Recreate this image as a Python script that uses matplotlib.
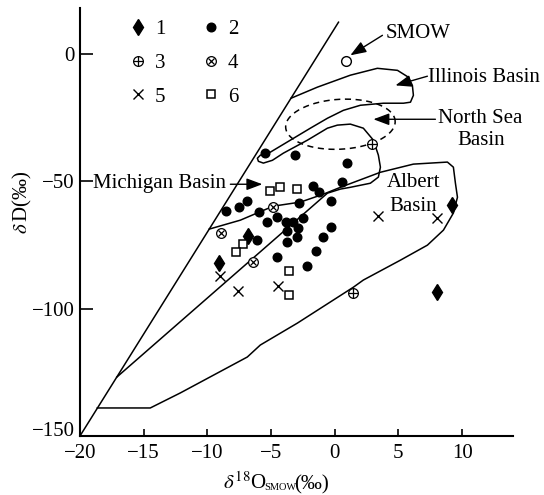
import numpy as np
import matplotlib
matplotlib.use('Agg')
import matplotlib.pyplot as plt
from matplotlib.legend_handler import HandlerTuple

# grupo 1 (rombos)
g1_x = [-6.8, -9.1, 9.2, 8.0]
g1_y = [-71.6, -82.2, -59.4, -93.5]

# grupo 2 (círculos rellenos)
g2_x = [-5.44, -3.09, -8.51, -7.49, -6.86, -5.92, -5.29, -4.50, -2.77, -1.67,
        -1.20, -0.30, -3.79, -3.24, -2.46, -3.72, -2.85, -2.93, -3.72, -6.07,
        -0.89, -0.30, -1.44, -4.50, -2.14, 1.00, 0.60]
g2_y = [-39.0, -39.8, -61.8, -60.2, -57.8, -62.2, -66.1, -64.1, -58.6, -52.0,
        -54.3, -57.8, -66.1, -66.1, -64.5, -69.6, -68.4, -72.0, -73.9, -73.1,
        -72.0, -68.0, -77.3, -79.8, -83.1, -42.9, -50.4]

# grupo 3 (círculo con +)
g3_x = [2.96, 1.47]
g3_y = [-35.5, -93.9]

# grupo 4 (círculo con x)
g4_x = [-4.82, -8.90, -6.39]
g4_y = [-60.2, -70.4, -81.8]

# grupo 5 (cruces)
g5_x = [-8.98, -7.56, -4.42, 3.43, 8.00]
g5_y = [-87.3, -93.1, -91.2, -63.7, -64.5]

# grupo 6 (cuadrados)
g6_x = [-5.05, -4.27, -2.93, -7.17, -7.72, -3.56, -3.56]
g6_y = [-53.9, -52.4, -53.1, -74.7, -77.8, -85.3, -94.7]

smow_x, smow_y = 0.9, -2.9

# línea meteórica
gmwl_x = [-20, 0.3]
gmwl_y = [8 * v + 10 for v in gmwl_x]

# contorno cuenca Albert
albert_x = [-9.85, -7.41, -4.82, -2.69, -0.89, 0.45, 3.59, 6.18, 8.85, 9.32, 9.48,
            9.64, 9.32, 8.54, 7.28, 5.16, 2.25, 1.47, -2.93, -5.84, -6.86, -12.12,
            -14.48, -18.64]
albert_y = [-68.8, -65.3, -59.8, -58.2, -55.1, -52.4, -46.5, -43.3, -42.5, -44.5, -50.8,
            -56.3, -62.5, -69.2, -75.1, -81.0, -88.8, -91.6, -105.7, -114.3, -119.0, -133.1,
            -139.0, -139.0]

# contorno Michigan + Illinois (una sola línea)
mich_x = [-17.11, -0.57, 0.45, 1.23, 2.80, 3.43, 3.59, 3.43, 3.04, 2.25, 1.23, 0.21,
          -0.57, -2.14, -4.03, -4.89, -5.60, -5.99, -6.07, -5.84, -5.05, -3.48, -1.91,
          -0.57, 0.68, 2.02, 3.83, 5.40, 5.95, 6.18, 6.10, 5.79, 4.93, 3.35, 1.23,
          -1.36, -3.43]
mich_y = [-126.9, -54.7, -53.1, -52.4, -50.8, -48.4, -44.5, -39.8, -33.9, -29.2, -27.6, -28.0,
          -29.2, -33.9, -39.0, -41.8, -42.9, -42.2, -41.0, -39.8, -38.6, -33.9, -29.2,
          -25.3, -22.2, -20.2, -19.4, -19.4, -19.0, -16.3, -12.4, -9.2, -6.5, -5.7, -8.4,
          -13.1, -17.45]

# cuenca del Mar del Norte (elipse)
nsb_cx, nsb_cy = 0.45, -27.65
nsb_a, nsb_b, nsb_tilt = 4.3, 9.8, 1.0

x_ticks = [-20, -15, -10, -5, 0, 5, 10]
y_ticks = [-150, -100, -50, 0]

plt.rcParams['font.family'] = ['Liberation Serif', 'DejaVu Serif']
plt.rcParams['mathtext.fontset'] = 'stix'

fig = plt.figure(figsize=(5.44, 4.95), dpi=100)
ax = fig.add_axes([0.147, 0.1192, 0.796, 0.8648])

lw = 1.1
ax.plot(gmwl_x, gmwl_y, color='k', lw=lw)
ax.plot(albert_x, albert_y, color='k', lw=lw)
ax.plot(mich_x, mich_y, color='k', lw=lw)
t = np.linspace(0, 2 * np.pi, 200)
ax.plot(nsb_cx + nsb_a * np.cos(t), nsb_cy + nsb_b * np.sin(t) + nsb_tilt * np.cos(t),
        color='k', lw=lw, ls=(0, (4, 3)))

h1, = ax.plot(g1_x, g1_y, 'd', ms=8.5, color='k', ls='none')
h2, = ax.plot(g2_x, g2_y, 'o', ms=6.2, color='k', ls='none')
h3a, = ax.plot(g3_x, g3_y, 'o', ms=7, mfc='white', mec='k', mew=0.9, ls='none')
h3b, = ax.plot(g3_x, g3_y, '+', ms=7, mec='k', mew=0.9, ls='none')
h4a, = ax.plot(g4_x, g4_y, 'o', ms=7, mfc='white', mec='k', mew=0.9, ls='none')
h4b, = ax.plot(g4_x, g4_y, 'x', ms=4.5, mec='k', mew=0.9, ls='none')
h5, = ax.plot(g5_x, g5_y, 'x', ms=6.5, mec='k', mew=1.0, ls='none')
h6, = ax.plot(g6_x, g6_y, 's', ms=6, mfc='white', mec='k', mew=1.1, ls='none')
ax.plot([smow_x], [smow_y], 'o', ms=7, mfc='white', mec='k', mew=1.0)

ax.legend([h1, (h3a, h3b), h5, h2, (h4a, h4b), h6], ['1', '3', '5', '2', '4', '6'],
          ncol=2, frameon=False, handler_map={tuple: HandlerTuple(ndivide=1)},
          loc='upper left', bbox_to_anchor=(0.11, 0.973), borderpad=0, borderaxespad=0,
          handlelength=1.0, handletextpad=0.3, columnspacing=1.7, labelspacing=0.68,
          fontsize=15, numpoints=1)

fs = 15
ax.text(3.98, 6.1, 'SMOW', fontsize=fs, ha='left', va='baseline')
ax.text(7.36, -11.2, 'Illinois Basin', fontsize=fs, ha='left', va='baseline', clip_on=False)
ax.text(11.4, -27.25, 'North Sea', fontsize=fs, ha='center', va='baseline', clip_on=False)
ax.text(11.5, -35.9, 'Basin', fontsize=fs, ha='center', va='baseline', clip_on=False)
ax.text(6.2, -52.4, 'Albert', fontsize=fs, ha='center', va='baseline')
ax.text(6.2, -61.8, 'Basin', fontsize=fs, ha='center', va='baseline')
ax.text(-18.96, -52.7, 'Michigan Basin', fontsize=fs, ha='left', va='baseline')

arrow = dict(arrowstyle='-|>,head_length=0.8,head_width=0.3', color='k', lw=1.0,
             mutation_scale=12, shrinkA=0, shrinkB=0)
ax.annotate('', xy=(1.23, -0.6), xytext=(3.75, 7.25), arrowprops=arrow)
ax.annotate('', xy=(4.77, -12.4), xytext=(7.28, -8.8), arrowprops=arrow)
ax.annotate('', xy=(3.04, -25.7), xytext=(7.91, -25.7), arrowprops=arrow, annotation_clip=False)
ax.annotate('', xy=(-5.68, -51.2), xytext=(-8.19, -51.2), arrowprops=arrow)

ax.set_xlim(-20, 14)
ax.set_ylim(-150, 18)
ax.set_xticks(x_ticks)
ax.set_yticks(y_ticks)
# la etiqueta -150 va un poco más arriba, como en el original
ax.set_yticklabels(['' if v == -150 else f'{v}'.replace('-', '\u2212') for v in y_ticks])
ax.annotate('\u2212150', xy=(0, 0), xycoords='axes fraction', xytext=(-3.6, 3),
            textcoords='offset points', ha='right', va='center', fontsize=fs)
for s in ['top', 'right']:
    ax.spines[s].set_visible(False)
for s in ['left', 'bottom']:
    ax.spines[s].set_linewidth(1.5)
ax.tick_params(axis='both', direction='in', width=1.2, labelsize=fs)
ax.tick_params(axis='y', length=9, pad=4)
ax.tick_params(axis='x', length=5, pad=5.5)

# título del eje x en tres partes (subíndice pequeño)
fig.text(223 / 544, 1 - 489 / 495, r'$\delta^{18}$O', fontsize=fs, ha='left', va='baseline')
fig.text(264 / 544, 1 - 490 / 495, 'SMOW', fontsize=7.5, ha='left', va='baseline')
fig.text(294 / 544, 1 - 489 / 495, '(‰)', fontsize=fs, ha='left', va='baseline')
fig.text(22 / 544, 1 - 202 / 495, r'$\delta\,$D(‰)', fontsize=fs, rotation=90,
         ha='center', va='center')

fig.savefig('out.png', dpi=100)
